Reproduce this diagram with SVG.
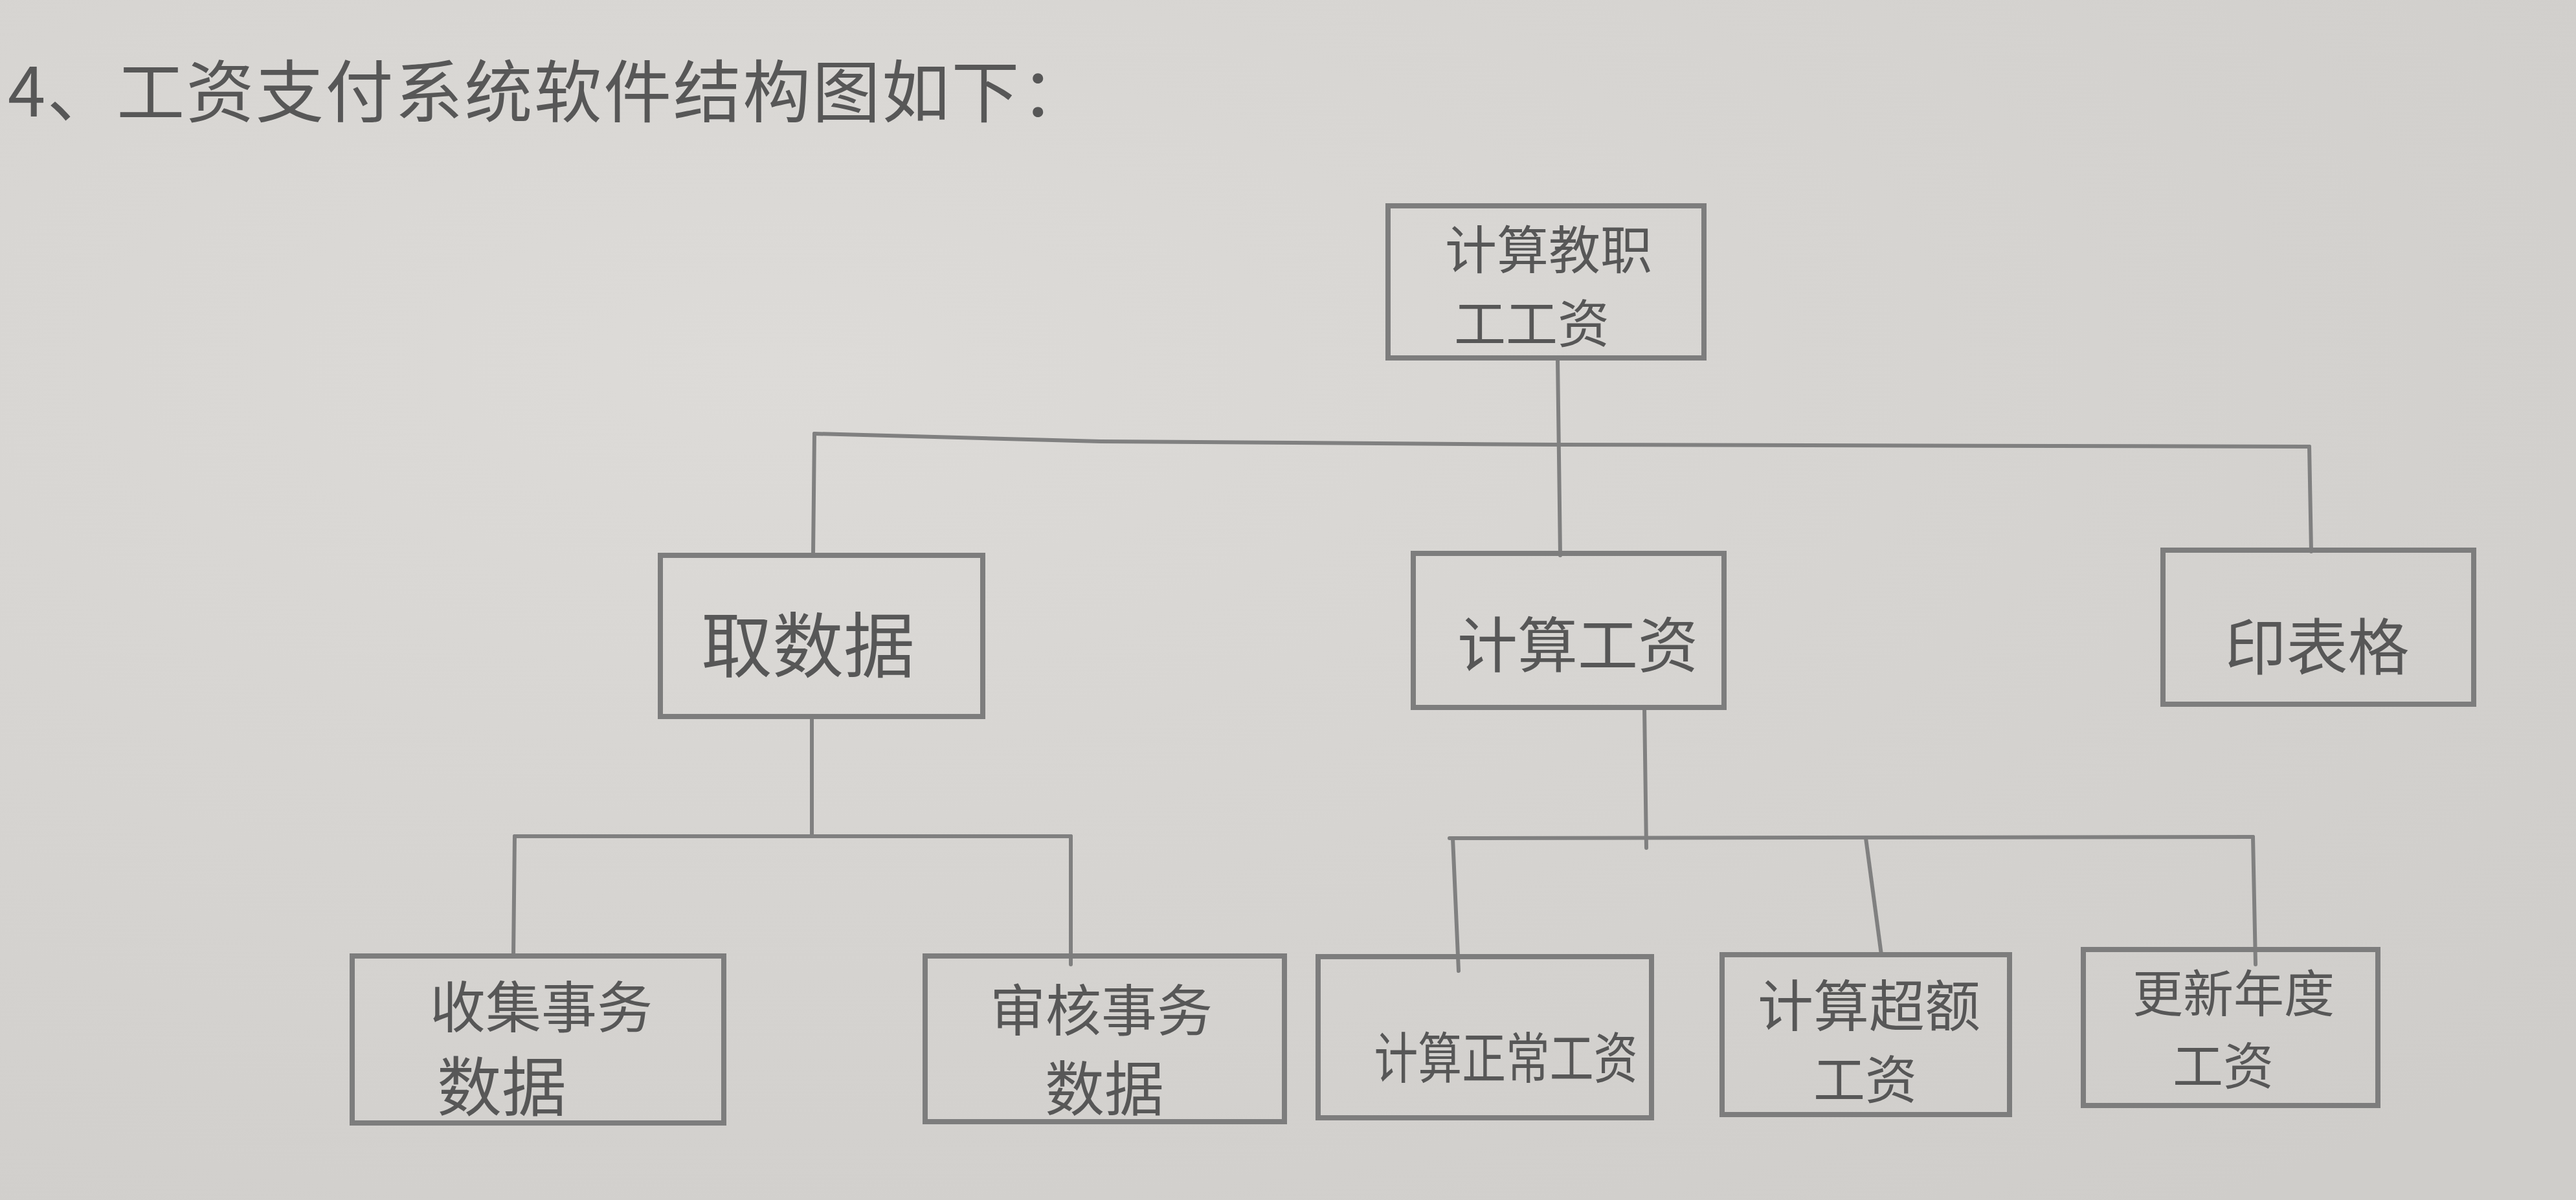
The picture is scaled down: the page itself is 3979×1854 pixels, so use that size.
<svg xmlns="http://www.w3.org/2000/svg" width="3979" height="1854" viewBox="0 0 3979 1854">
<defs>
<radialGradient id="paper" cx="0.3" cy="0.3" r="0.9">
<stop offset="0" stop-color="#dddbd8"/>
<stop offset="1" stop-color="#cfcdca"/>
</radialGradient>
<style>
.box{fill:none;stroke:#7d7d7d;stroke-width:8}
.con{fill:none;stroke:#808080;stroke-width:6;stroke-linecap:round;stroke-linejoin:round}
.t{font-family:"Noto Sans CJK SC","Noto Sans",sans-serif;fill:#575757;text-anchor:middle;dominant-baseline:central;font-weight:400}
.title{font-family:"Noto Sans CJK SC","Noto Sans",sans-serif;fill:#575757;font-weight:400}
</style>
</defs>
<rect x="0" y="0" width="3979" height="1854" fill="url(#paper)"/>
<text class="title" x="12" y="180" font-size="105" textLength="1670" lengthAdjust="spacing">4、工资支付系统软件结构图如下：</text>

<g id="connectors">
<polyline class="con" points="2406,553 2410,858"/>
<polyline class="con" points="1258,670 1700,682 2410,687 3567,690"/>
<polyline class="con" points="1258,670 1256,858"/>
<polyline class="con" points="3567,690 3570,852"/>
<polyline class="con" points="1254,1108 1254,1292"/>
<polyline class="con" points="795,1292 1654,1292"/>
<polyline class="con" points="795,1292 793,1478"/>
<polyline class="con" points="1654,1292 1654,1490"/>
<polyline class="con" points="2540,1093 2543,1310"/>
<polyline class="con" points="2239,1295 3480,1293"/>
<polyline class="con" points="2244,1295 2253,1500"/>
<polyline class="con" points="2882,1295 2906,1475"/>
<polyline class="con" points="3480,1293 3484,1490"/>
</g>

<g id="root">
<rect class="box" x="2144" y="318" width="488" height="235"/>
<text class="t" x="2392" y="380" font-size="80">计算教职</text>
<text class="t" x="2366" y="494" font-size="80">工工资</text>
</g>
<g id="qushuju">
<rect class="box" x="1020" y="858" width="498" height="249"/>
<text class="t" x="1248" y="990" font-size="110">取数据</text>
</g>
<g id="jisuangongzi">
<rect class="box" x="2183" y="855" width="480" height="238"/>
<text class="t" x="2437" y="990" font-size="93">计算工资</text>
</g>
<g id="yinbiaoge">
<rect class="box" x="3341" y="850" width="480" height="238"/>
<text class="t" x="3579" y="993" font-size="95">印表格</text>
</g>
<g id="shouji">
<rect class="box" x="544" y="1477" width="574" height="258"/>
<text class="t" x="836" y="1550" font-size="86">收集事务</text>
<text class="t" x="775" y="1672" font-size="100">数据</text>
</g>
<g id="shenhe">
<rect class="box" x="1429" y="1477" width="555" height="256"/>
<text class="t" x="1701" y="1555" font-size="86">审核事务</text>
<text class="t" x="1706" y="1675" font-size="92">数据</text>
</g>
<g id="zhengchang">
<rect class="box" x="2036" y="1478" width="515" height="249"/>
<text class="t" x="2326" y="1628" font-size="85" textLength="407" lengthAdjust="spacingAndGlyphs">计算正常工资</text>
</g>
<g id="chaoe">
<rect class="box" x="2660" y="1475" width="444" height="247"/>
<text class="t" x="2887" y="1548" font-size="86">计算超额</text>
<text class="t" x="2881" y="1662" font-size="80">工资</text>
</g>
<g id="gengxin">
<rect class="box" x="3218" y="1467" width="455" height="241"/>
<text class="t" x="3450" y="1530" font-size="78">更新年度</text>
<text class="t" x="3434" y="1642" font-size="78">工资</text>
</g>
</svg>
